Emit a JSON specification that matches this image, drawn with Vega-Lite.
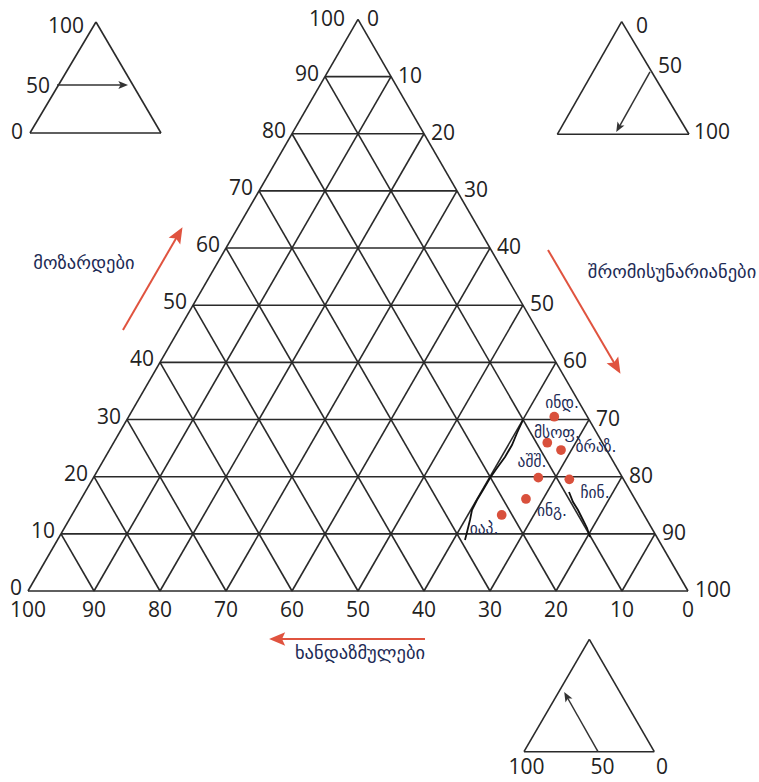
{
  "$schema": "https://vega.github.io/schema/vega-lite/v6.json",
  "width": 759,
  "height": 782,
  "autosize": "none",
  "padding": 0,
  "background": "white",
  "config": {"view": {"stroke": null}},
  "datasets": {
    "grid": [
      {"x": 5, "y": 8.66, "x2": 95, "y2": 8.66},
      {"x": 10, "y": 17.32, "x2": 90, "y2": 17.32},
      {"x": 15, "y": 25.98, "x2": 85, "y2": 25.98},
      {"x": 20, "y": 34.64, "x2": 80, "y2": 34.64},
      {"x": 25, "y": 43.30, "x2": 75, "y2": 43.30},
      {"x": 30, "y": 51.96, "x2": 70, "y2": 51.96},
      {"x": 35, "y": 60.62, "x2": 65, "y2": 60.62},
      {"x": 40, "y": 69.28, "x2": 60, "y2": 69.28},
      {"x": 45, "y": 77.94, "x2": 55, "y2": 77.94},
      {"x": 10, "y": 0, "x2": 55, "y2": 77.94},
      {"x": 20, "y": 0, "x2": 60, "y2": 69.28},
      {"x": 30, "y": 0, "x2": 65, "y2": 60.62},
      {"x": 40, "y": 0, "x2": 70, "y2": 51.96},
      {"x": 50, "y": 0, "x2": 75, "y2": 43.30},
      {"x": 60, "y": 0, "x2": 80, "y2": 34.64},
      {"x": 70, "y": 0, "x2": 85, "y2": 25.98},
      {"x": 80, "y": 0, "x2": 90, "y2": 17.32},
      {"x": 90, "y": 0, "x2": 95, "y2": 8.66},
      {"x": 90, "y": 0, "x2": 45, "y2": 77.94},
      {"x": 80, "y": 0, "x2": 40, "y2": 69.28},
      {"x": 70, "y": 0, "x2": 35, "y2": 60.62},
      {"x": 60, "y": 0, "x2": 30, "y2": 51.96},
      {"x": 50, "y": 0, "x2": 25, "y2": 43.30},
      {"x": 40, "y": 0, "x2": 20, "y2": 34.64},
      {"x": 30, "y": 0, "x2": 15, "y2": 25.98},
      {"x": 20, "y": 0, "x2": 10, "y2": 17.32},
      {"x": 10, "y": 0, "x2": 5, "y2": 8.66},
      {"x": 0, "y": 0, "x2": 100, "y2": 0},
      {"x": 0, "y": 0, "x2": 50, "y2": 86.6},
      {"x": 100, "y": 0, "x2": 50, "y2": 86.6},
      {"x": 10.30, "y": 86.21, "x2": 0.30, "y2": 69.39},
      {"x": 10.30, "y": 86.21, "x2": 20.15, "y2": 69.39},
      {"x": 0.30, "y": 69.39, "x2": 20.15, "y2": 69.39},
      {"x": 89.95, "y": 86.26, "x2": 80.20, "y2": 69.20},
      {"x": 89.95, "y": 86.26, "x2": 100.15, "y2": 69.20},
      {"x": 80.20, "y": 69.20, "x2": 100.15, "y2": 69.20},
      {"x": 85.05, "y": -7.32, "x2": 75.15, "y2": -24.35},
      {"x": 85.05, "y": -7.32, "x2": 94.89, "y2": -24.35},
      {"x": 75.15, "y": -24.35, "x2": 94.89, "y2": -24.35}
    ],
    "leftLabels": [
      {"x": 0, "y": 0, "t": "0"},
      {"x": 5, "y": 8.66, "t": "10"},
      {"x": 10, "y": 17.32, "t": "20"},
      {"x": 15, "y": 25.98, "t": "30"},
      {"x": 20, "y": 34.64, "t": "40"},
      {"x": 25, "y": 43.30, "t": "50"},
      {"x": 30, "y": 51.96, "t": "60"},
      {"x": 35, "y": 60.62, "t": "70"},
      {"x": 40, "y": 69.28, "t": "80"},
      {"x": 45, "y": 77.94, "t": "90"}
    ],
    "rightLabels": [
      {"x": 55, "y": 77.94, "t": "10"},
      {"x": 60, "y": 69.28, "t": "20"},
      {"x": 65, "y": 60.62, "t": "30"},
      {"x": 70, "y": 51.96, "t": "40"},
      {"x": 75, "y": 43.30, "t": "50"},
      {"x": 80, "y": 34.64, "t": "60"},
      {"x": 85, "y": 25.98, "t": "70"},
      {"x": 90, "y": 17.32, "t": "80"},
      {"x": 95, "y": 8.66, "t": "90"},
      {"x": 100, "y": 0, "t": "100"}
    ],
    "bottomLabels": [
      {"x": 0, "y": 0, "t": "100"},
      {"x": 10, "y": 0, "t": "90"},
      {"x": 20, "y": 0, "t": "80"},
      {"x": 30, "y": 0, "t": "70"},
      {"x": 40, "y": 0, "t": "60"},
      {"x": 50, "y": 0, "t": "50"},
      {"x": 60, "y": 0, "t": "40"},
      {"x": 70, "y": 0, "t": "30"},
      {"x": 80, "y": 0, "t": "20"},
      {"x": 90, "y": 0, "t": "10"},
      {"x": 100, "y": 0, "t": "0"}
    ],
    "apexLeft": [{"x": 50, "y": 86.6, "t": "100"}],
    "apexRight": [{"x": 50, "y": 86.6, "t": "0"}],
    "insetLabelsRight": [
      {"x": 8.48, "y": 85.45, "t": "100"},
      {"x": 3.33, "y": 76.36, "t": "50"},
      {"x": -0.76, "y": 69.39, "t": "0"}
    ],
    "insetLabelsLeft": [
      {"x": 92.12, "y": 85.45, "t": "0"},
      {"x": 95.45, "y": 79.39, "t": "50"},
      {"x": 100.91, "y": 69.39, "t": "100"}
    ],
    "insetLabelsCenter": [
      {"x": 75.53, "y": -26.82, "t": "100"},
      {"x": 87.05, "y": -26.82, "t": "50"},
      {"x": 96.06, "y": -26.82, "t": "0"}
    ],
    "blackArrows": [
      {"x": 4.39, "y": 76.67, "x2": 14.29, "y2": 76.67, "a": 90},
      {"x": 94.24, "y": 78.64, "x2": 89.55, "y2": 70.30, "a": 209.4},
      {"x": 86.36, "y": -24.35, "x2": 81.67, "y2": -16.06, "a": 330.5}
    ],
    "redArrows": [
      {"x": 14.39, "y": 39.55, "x2": 22.73, "y2": 53.94, "a": 30},
      {"x": 78.79, "y": 51.67, "x2": 89.09, "y2": 34.09, "a": 150},
      {"x": 60.15, "y": -7.27, "x2": 37.88, "y2": -7.27, "a": 270}
    ],
    "titles": [
      {"x": 8.48, "y": 49.70, "t": "მოზარდები"},
      {"x": 97.58, "y": 48.33, "t": "შრომისუნარიანები"},
      {"x": 50.30, "y": -9.39, "t": "ხანდაზმულები"}
    ],
    "countries": [
      {"x": 79.74, "y": 26.41, "country": "ინდ."},
      {"x": 78.68, "y": 22.47, "country": "მსოფ."},
      {"x": 80.76, "y": 21.36, "country": "ბრაზ."},
      {"x": 77.32, "y": 17.17, "country": "აშშ."},
      {"x": 82.02, "y": 16.92, "country": "ჩინ."},
      {"x": 75.45, "y": 13.94, "country": "ინგ."},
      {"x": 71.77, "y": 11.52, "country": "იაპ."}
    ],
    "countryLabels": [
      {"x": 80.91, "y": 28.48, "country": "ინდ."},
      {"x": 80.15, "y": 23.94, "country": "მსოფ."},
      {"x": 86.06, "y": 21.82, "country": "ბრაზ."},
      {"x": 76.36, "y": 19.55, "country": "აშშ."},
      {"x": 85.91, "y": 14.85, "country": "ჩინ."},
      {"x": 79.39, "y": 12.12, "country": "ინგ."},
      {"x": 69.09, "y": 9.39, "country": "იაპ."}
    ],
    "boundary": [
      {"seg": "a", "i": 0, "x": 75.0, "y": 25.91},
      {"seg": "a", "i": 1, "x": 74.09, "y": 23.94},
      {"seg": "a", "i": 2, "x": 73.33, "y": 22.12},
      {"seg": "a", "i": 3, "x": 72.27, "y": 20.30},
      {"seg": "a", "i": 4, "x": 71.06, "y": 18.64},
      {"seg": "a", "i": 5, "x": 70.0, "y": 17.12},
      {"seg": "a", "i": 6, "x": 68.94, "y": 15.30},
      {"seg": "a", "i": 7, "x": 68.03, "y": 13.79},
      {"seg": "a", "i": 8, "x": 67.27, "y": 12.27},
      {"seg": "a", "i": 9, "x": 66.97, "y": 10.76},
      {"seg": "a", "i": 10, "x": 66.52, "y": 8.94},
      {"seg": "a", "i": 11, "x": 66.21, "y": 7.73},
      {"seg": "b", "i": 0, "x": 81.97, "y": 15.0},
      {"seg": "b", "i": 1, "x": 82.58, "y": 13.48},
      {"seg": "b", "i": 2, "x": 83.33, "y": 12.27},
      {"seg": "b", "i": 3, "x": 83.94, "y": 11.06},
      {"seg": "b", "i": 4, "x": 84.70, "y": 9.55},
      {"seg": "b", "i": 5, "x": 85.15, "y": 8.18}
    ]
  },
  "encoding": {
    "x": {"field": "x", "type": "quantitative", "scale": {"domain": [-4.2424, 110.7576], "nice": false, "zero": false}, "axis": null},
    "y": {"field": "y", "type": "quantitative", "scale": {"domain": [-28.9394, 89.5455], "nice": false, "zero": false}, "axis": null}
  },
  "layer": [
    {
      "data": {"name": "grid"},
      "mark": {"type": "rule", "color": "#2a2a2a", "strokeWidth": 1.6},
      "encoding": {"x2": {"field": "x2"}, "y2": {"field": "y2"}}
    },
    {
      "data": {"name": "boundary"},
      "mark": {"type": "line", "color": "#111", "strokeWidth": 1.8},
      "encoding": {"detail": {"field": "seg"}, "order": {"field": "i", "type": "quantitative"}}
    },
    {
      "data": {"name": "blackArrows"},
      "mark": {"type": "rule", "color": "#333", "strokeWidth": 1.5},
      "encoding": {"x2": {"field": "x2"}, "y2": {"field": "y2"}}
    },
    {
      "data": {"name": "blackArrows"},
      "mark": {"type": "point", "filled": true, "color": "#333", "opacity": 1, "size": 130, "shape": "M0,-1L0.7,0.7L0,0.3L-0.7,0.7Z"},
      "encoding": {"x": {"field": "x2", "type": "quantitative"}, "y": {"field": "y2", "type": "quantitative"}, "angle": {"field": "a", "type": "quantitative", "scale": null}}
    },
    {
      "data": {"name": "redArrows"},
      "mark": {"type": "rule", "color": "#e0533f", "strokeWidth": 2},
      "encoding": {"x2": {"field": "x2"}, "y2": {"field": "y2"}}
    },
    {
      "data": {"name": "redArrows"},
      "mark": {"type": "point", "filled": true, "color": "#e0533f", "opacity": 1, "size": 320, "shape": "M0,-1L0.75,0.8L0,0.45L-0.75,0.8Z"},
      "encoding": {"x": {"field": "x2", "type": "quantitative"}, "y": {"field": "y2", "type": "quantitative"}, "angle": {"field": "a", "type": "quantitative", "scale": null}}
    },
    {
      "data": {"name": "leftLabels"},
      "mark": {"type": "text", "align": "right", "baseline": "middle", "dx": -6, "dy": -2, "font": "Open Sans", "fontSize": 21, "color": "#222"},
      "encoding": {"text": {"field": "t"}}
    },
    {
      "data": {"name": "rightLabels"},
      "mark": {"type": "text", "align": "left", "baseline": "middle", "dx": 7, "font": "Open Sans", "fontSize": 21, "color": "#222"},
      "encoding": {"text": {"field": "t"}}
    },
    {
      "data": {"name": "bottomLabels"},
      "mark": {"type": "text", "align": "center", "baseline": "middle", "dy": 20, "font": "Open Sans", "fontSize": 21, "color": "#222"},
      "encoding": {"text": {"field": "t"}}
    },
    {
      "data": {"name": "apexLeft"},
      "mark": {"type": "text", "align": "right", "baseline": "middle", "dx": -13, "dy": 1, "font": "Open Sans", "fontSize": 21, "color": "#222"},
      "encoding": {"text": {"field": "t"}}
    },
    {
      "data": {"name": "apexRight"},
      "mark": {"type": "text", "align": "left", "baseline": "middle", "dx": 9, "dy": 1, "font": "Open Sans", "fontSize": 21, "color": "#222"},
      "encoding": {"text": {"field": "t"}}
    },
    {
      "data": {"name": "insetLabelsRight"},
      "mark": {"type": "text", "align": "right", "baseline": "middle", "font": "Open Sans", "fontSize": 21, "color": "#222"},
      "encoding": {"text": {"field": "t"}}
    },
    {
      "data": {"name": "insetLabelsLeft"},
      "mark": {"type": "text", "align": "left", "baseline": "middle", "font": "Open Sans", "fontSize": 21, "color": "#222"},
      "encoding": {"text": {"field": "t"}}
    },
    {
      "data": {"name": "insetLabelsCenter"},
      "mark": {"type": "text", "align": "center", "baseline": "middle", "font": "Open Sans", "fontSize": 21, "color": "#222"},
      "encoding": {"text": {"field": "t"}}
    },
    {
      "data": {"name": "titles"},
      "mark": {"type": "text", "align": "center", "baseline": "middle", "font": "DejaVu Sans", "fontSize": 18.5, "color": "#1d2b55"},
      "encoding": {"text": {"field": "t"}}
    },
    {
      "data": {"name": "countries"},
      "mark": {"type": "circle", "color": "#d9503c", "opacity": 1, "size": 95},
      "encoding": {}
    },
    {
      "data": {"name": "countryLabels"},
      "mark": {"type": "text", "align": "center", "baseline": "middle", "font": "DejaVu Sans", "fontSize": 15.5, "color": "#1d2b55"},
      "encoding": {"text": {"field": "country"}}
    }
  ]
}
